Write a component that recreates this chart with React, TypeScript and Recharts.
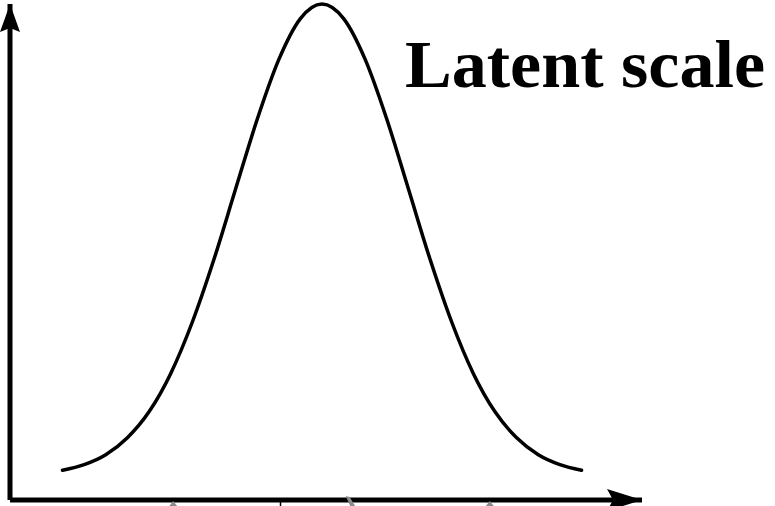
import { LineChart, Line, XAxis, YAxis, ReferenceDot } from "recharts";

// latent positions (in SD units) and relative density height
const latent = [
  -3, -2.75, -2.5, -2.25, -2, -1.75, -1.5, -1.25, -1, -0.75, -0.5, -0.25, 0,
  0.25, 0.5, 0.75, 1, 1.25, 1.5, 1.75, 2, 2.25, 2.5, 2.75, 3,
];
const density = [
  0.011, 0.023, 0.044, 0.08, 0.135, 0.216, 0.325, 0.458, 0.607, 0.755, 0.882,
  0.969, 1, 0.969, 0.882, 0.755, 0.607, 0.458, 0.325, 0.216, 0.135, 0.08,
  0.044, 0.023, 0.011,
];

// grey threshold markers under the axis and the small black tick
const thresholds = [-1.72, 0.32, 1.94];
const centreTick = -0.48;
const axisFloor = -0.052;

const data = latent.map((x, i) => ({ x, y: density[i] }));

const GreyMarker = (props: any) => {
  const { cx, cy } = props;
  return (
    <path
      d={`M${cx},${cy + 1} L${cx + 15},${cy + 20} L${cx - 15},${cy + 20} Z`}
      fill="#8a8a8a"
    />
  );
};

// the middle marker is tilted and mostly hidden in the source
const TiltedMarker = (props: any) => {
  const { cx, cy } = props;
  return (
    <path
      d={`M${cx - 4},${cy - 4} L${cx},${cy - 3} L${cx + 6},${cy + 7} L${cx + 1},${cy + 7} Z`}
      fill="#8a8a8a"
    />
  );
};

const BlackTick = (props: any) => {
  const { cx, cy } = props;
  return <line x1={cx} y1={cy} x2={cx} y2={cy + 12} stroke="#000" strokeWidth={1.5} />;
};

export default function App() {
  return (
    <div style={{ position: "absolute", left: 0, top: 0, background: "#fff" }}>
      <LineChart
        width={775}
        height={506}
        data={data}
        margin={{ top: 4, right: 133, bottom: 5, left: 9 }}
      >
        <defs>
          <marker
            id="arrowRight"
            markerUnits="userSpaceOnUse"
            markerWidth={36}
            markerHeight={24}
            refX={35}
            refY={11}
            overflow="visible"
          >
            <path d="M35,11 L0,0 L6,11 L0,22 Z" fill="#000" />
          </marker>
          <marker
            id="arrowUp"
            markerUnits="userSpaceOnUse"
            markerWidth={22}
            markerHeight={30}
            refX={10}
            refY={0}
            overflow="visible"
          >
            <path d="M10,0 L20,28 L10,24 L0,28 Z" fill="#000" />
          </marker>
        </defs>
        <XAxis
          dataKey="x"
          type="number"
          domain={[-3.607, 3.699]}
          height={1}
          tick={false}
          tickLine={false}
          axisLine={{ stroke: "#000", strokeWidth: 5, markerEnd: "url(#arrowRight)" }}
        />
        <YAxis
          type="number"
          domain={[axisFloor, 1]}
          width={1}
          tick={false}
          tickLine={false}
          axisLine={{ stroke: "#000", strokeWidth: 5, markerStart: "url(#arrowUp)" }}
        />
        <Line
          type="monotone"
          dataKey="y"
          stroke="#000"
          strokeWidth={3.5}
          strokeLinecap="round"
          dot={false}
          activeDot={false}
          isAnimationActive={false}
        />
        {thresholds.map((t, i) => (
          <ReferenceDot
            key={t}
            x={t}
            y={axisFloor}
            ifOverflow="visible"
            shape={i === 1 ? TiltedMarker : GreyMarker}
          />
        ))}
        <ReferenceDot x={centreTick} y={axisFloor} ifOverflow="visible" shape={BlackTick} />
        <text
          x={405}
          y={87}
          fontFamily="'Liberation Serif', serif"
          fontWeight="bold"
          fontSize={67}
          textLength={360}
          lengthAdjust="spacingAndGlyphs"
          fill="#000"
        >
          Latent scale
        </text>
      </LineChart>
    </div>
  );
}
